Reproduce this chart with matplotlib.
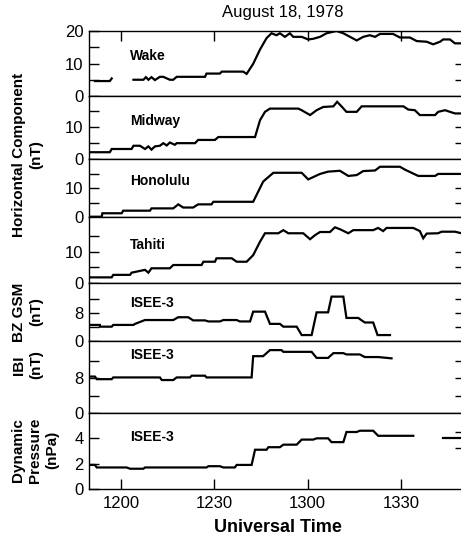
import matplotlib.pyplot as plt
import numpy as np

plt.rcParams['font.family'] = ['Liberation Sans', 'DejaVu Sans']

# (minutes after 1200 UT, value)
wake_a = [(-8.4, 4.6), (-3.6, 4.6), (-3.0, 5.4)]
wake_b = [(4.0, 5.0), (7.2, 5.0), (8.0, 5.8), (8.8, 5.0), (9.8, 5.8), (10.9, 4.9),
          (12.5, 5.9), (13.6, 5.9), (15.7, 5.0), (16.8, 5.0), (17.9, 5.9), (27.0, 5.9),
          (27.5, 6.9), (31.8, 6.9), (32.4, 7.5), (39.3, 7.5), (40.4, 6.8), (42.5, 9.9),
          (44.7, 14.3), (46.8, 17.8), (48.4, 19.3), (50.0, 18.7), (51.1, 19.3), (52.7, 18.2),
          (54.3, 19.3), (55.4, 18.2), (58.1, 18.2), (60.2, 17.4), (61.8, 17.6), (64.0, 18.2),
          (66.1, 19.3), (69.3, 20.0), (71.5, 19.3), (75.8, 17.1), (77.9, 18.2), (80.0, 18.7),
          (81.7, 18.2), (83.3, 19.1), (87.5, 19.1), (89.7, 18.0), (92.9, 18.0), (95.1, 16.9),
          (98.3, 16.7), (100.4, 15.9), (102.6, 16.7), (103.6, 17.4), (105.8, 17.4),
          (107.4, 16.2), (109.5, 16.2)]
midway = [(-10.0, 2.1), (-3.6, 2.1), (-3.0, 3.1), (3.4, 3.1), (4.0, 4.1), (6.1, 4.1),
          (7.7, 3.1), (8.8, 3.9), (9.8, 2.9), (10.9, 3.9), (12.5, 4.1), (13.6, 4.9),
          (14.7, 4.2), (15.7, 5.1), (17.3, 4.4), (17.9, 4.9), (23.8, 4.9), (24.8, 5.9),
          (30.2, 5.9), (31.3, 6.8), (43.1, 6.8), (44.7, 12.0), (46.3, 14.6), (47.9, 15.6),
          (57.0, 15.6), (58.1, 15.1), (60.8, 13.6), (62.9, 15.1), (65.0, 16.1), (68.3, 16.3),
          (69.5, 17.7), (70.9, 16.3), (72.5, 14.6), (75.8, 14.6), (77.4, 16.3), (90.8, 16.3),
          (92.4, 15.3), (94.5, 15.1), (96.1, 13.6), (101.0, 13.6), (102.0, 14.6),
          (104.2, 15.1), (105.8, 14.6), (107.4, 14.1), (109.5, 14.1)]
honolulu = [(-10.0, 0.1), (-6.2, 0.1), (-6.0, 1.3), (0.2, 1.3), (0.7, 2.2), (9.3, 2.2),
            (9.8, 3.0), (16.8, 3.0), (18.4, 4.4), (20.0, 3.3), (23.2, 3.3), (24.8, 4.4),
            (29.1, 4.4), (29.7, 5.3), (42.5, 5.3), (44.1, 8.8), (45.7, 12.3), (46.3, 12.9),
            (49.0, 15.4), (58.1, 15.4), (60.2, 13.1), (62.4, 14.2), (64.0, 15.0), (66.6, 15.8),
            (70.4, 16.1), (73.1, 14.3), (75.8, 14.6), (77.9, 16.0), (81.7, 16.2), (83.3, 17.5),
            (89.7, 17.5), (91.3, 16.5), (95.6, 14.3), (101.0, 14.3), (102.0, 15.0),
            (109.5, 15.0)]
tahiti = [(-10.0, 1.8), (-3.0, 1.8), (-2.5, 2.6), (2.9, 2.6), (3.4, 3.3), (7.7, 4.2),
          (8.8, 3.3), (9.8, 4.7), (15.7, 4.7), (16.8, 5.75), (25.9, 5.75), (26.5, 6.8),
          (30.2, 6.8), (30.7, 7.9), (35.6, 7.9), (37.2, 6.8), (40.4, 6.8), (42.5, 8.9),
          (44.7, 13.2), (46.3, 15.9), (50.6, 15.9), (52.2, 16.9), (53.8, 15.9), (58.6, 15.9),
          (60.8, 14.0), (62.4, 15.3), (64.0, 16.3), (67.2, 16.3), (68.8, 17.8), (70.4, 17.2),
          (73.1, 15.9), (74.7, 16.9), (81.1, 16.9), (82.7, 17.6), (84.3, 16.6), (85.4, 17.6),
          (94.0, 17.6), (96.1, 16.6), (97.2, 14.3), (98.3, 15.8), (102.0, 15.9),
          (103.1, 16.4), (107.4, 16.4), (109.5, 15.9)]
bz = [(-10.0, 4.6), (-6.8, 4.6), (-6.8, 4.1), (-3.0, 4.1), (-2.5, 4.6), (4.0, 4.6),
      (4.5, 4.9), (7.7, 6.0), (16.8, 6.0), (18.4, 6.8), (21.6, 6.8), (23.2, 5.9),
      (27.0, 5.9), (28.1, 5.6), (31.8, 5.6), (32.9, 6.0), (37.2, 6.0), (38.2, 5.6),
      (41.5, 5.6), (42.5, 8.4), (46.3, 8.4), (47.9, 4.9), (51.1, 4.9), (52.2, 4.1),
      (56.5, 4.1), (58.1, 1.7), (61.3, 1.7), (62.9, 8.2), (66.6, 8.2), (67.7, 12.7),
      (71.5, 12.7), (72.5, 6.6), (76.3, 6.6), (77.4, 5.9), (78.4, 5.3), (81.1, 5.3),
      (82.5, 1.7), (86.5, 1.7)]
btot = [(-10.0, 8.4), (-8.4, 8.4), (-7.8, 7.8), (-3.0, 7.8), (-2.5, 8.2), (12.5, 8.2),
        (13.1, 7.6), (16.8, 7.6), (17.9, 8.2), (22.2, 8.2), (22.7, 8.6), (27.0, 8.6),
        (27.5, 8.2), (42.0, 8.2), (42.5, 13.1), (45.7, 13.1), (47.9, 14.5), (51.6, 14.5),
        (52.2, 14.1), (61.3, 14.1), (62.9, 12.7), (66.6, 12.7), (68.3, 13.8), (71.5, 13.8),
        (72.5, 13.5), (76.8, 13.5), (78.4, 12.9), (82.7, 12.9), (87.0, 12.6)]
pdyn_a = [(-10.0, 1.9), (-8.4, 1.9), (-7.8, 1.7), (1.8, 1.7), (2.9, 1.6), (7.2, 1.6),
          (7.7, 1.7), (27.5, 1.7), (28.1, 1.8), (31.8, 1.8), (32.9, 1.7), (36.6, 1.7),
          (37.2, 1.9), (42.0, 1.9), (43.1, 3.1), (46.8, 3.1), (47.4, 3.3), (51.1, 3.3),
          (52.2, 3.5), (56.5, 3.5), (58.1, 3.9), (61.8, 3.9), (62.9, 4.0), (66.6, 4.0),
          (67.7, 3.7), (71.5, 3.7), (72.5, 4.5), (75.8, 4.5), (76.8, 4.6), (81.1, 4.6),
          (82.7, 4.2), (94.0, 4.2)]
pdyn_b = [(103.6, 4.05), (109.5, 4.05)]

time_ticks = [0, 30, 60, 90]
time_labels = ['1200', '1230', '1300', '1330']

# panel: (series list, name, ymax, labelled ticks, minor left ticks, right ticks, top px, bottom px, name y)
panels = [
    ([wake_a, wake_b], 'Wake', 20, [0, 10, 20], [5, 15], [5, 10], 31, 96, 0.62),
    ([midway], 'Midway', 19.5, [0, 10], [5, 15], [5, 10], 96, 159, 0.6),
    ([honolulu], 'Honolulu', 20.2, [0, 10], [5, 15], [5, 10], 159, 217, 0.62),
    ([tahiti], 'Tahiti', 21.1, [0, 10], [5, 15], [5, 10], 217, 283, 0.58),
    ([bz], 'ISEE-3', 16.6, [0, 8], [4, 12], [4, 8, 12], 283, 341, 0.66),
    ([btot], 'ISEE-3', 16.6, [0, 8], [4, 12], [4, 8, 12], 341, 413, 0.8),
    ([pdyn_a, pdyn_b], 'ISEE-3', 6.0, [0, 2, 4], [], [3.2, 4.5], 413, 489, 0.68),
]

W, H = 461, 541
fig = plt.figure(figsize=(W / 100, H / 100), dpi=100)
x0, x1 = 89, 461.8

for k, (series, name, ymax, yt, ym, yr, top, bot, ny) in enumerate(panels):
    ax = fig.add_axes([x0 / W, 1 - bot / H, (x1 - x0) / W, (bot - top) / H])
    for s in series:
        d = np.array(s)
        ax.plot(d[:, 0], d[:, 1], color='black', lw=1.6, solid_joinstyle='miter')
    ax.set_xlim(-10.3, 109.6)
    ax.set_ylim(0, ymax)
    ax.set_yticks(yt)
    ax.set_yticklabels([str(v) for v in yt], fontsize=12)
    ax.set_yticks(ym, minor=True)
    ax.tick_params(axis='y', which='both', direction='in', length=7, width=1.0, pad=4)
    sec = ax.secondary_yaxis('right')
    sec.set_yticks(yr)
    sec.tick_params(direction='in', length=5, width=1.0, labelright=False)
    for sp in ax.spines.values():
        sp.set_linewidth(1.0)
    ax.text(0.11, ny, name, transform=ax.transAxes,
            fontsize=10, fontweight='bold', va='center')
    if k == 0:
        ax.set_xticks(time_ticks)
        ax.tick_params(axis='x', top=True, bottom=False, labelbottom=False,
                       direction='in', length=7, width=1.0)
    elif k == len(panels) - 1:
        ax.set_xticks(time_ticks)
        ax.set_xticklabels(time_labels, fontsize=12)
        ax.tick_params(axis='x', direction='in', length=7, width=1.0, pad=5)
    else:
        ax.set_xticks([])

fig.text(283 / W, 1 - 13 / H, 'August 18, 1978', ha='center', va='center', fontsize=12)
fig.text(278 / W, 1 - 527 / H, 'Universal Time', ha='center', va='center',
         fontsize=13, fontweight='bold')
fig.text(28 / W, 1 - 155 / H, 'Horizontal Component\n(nT)', ha='center', va='center',
         rotation=90, fontsize=11, fontweight='bold', multialignment='center', linespacing=1.3)
fig.text(28 / W, 1 - 312 / H, 'BZ GSM\n(nT)', ha='center', va='center',
         rotation=90, fontsize=11, fontweight='bold', multialignment='center', linespacing=1.3)
fig.text(28 / W, 1 - 365 / H, 'IBI\n(nT)', ha='center', va='center',
         rotation=90, fontsize=11, fontweight='bold', multialignment='center', linespacing=1.3)
fig.text(35 / W, 1 - 450 / H, 'Dynamic\nPressure\n(nPa)', ha='center', va='center',
         rotation=90, fontsize=11, fontweight='bold', multialignment='center', linespacing=1.3)

fig.savefig('out.png', dpi=100)
